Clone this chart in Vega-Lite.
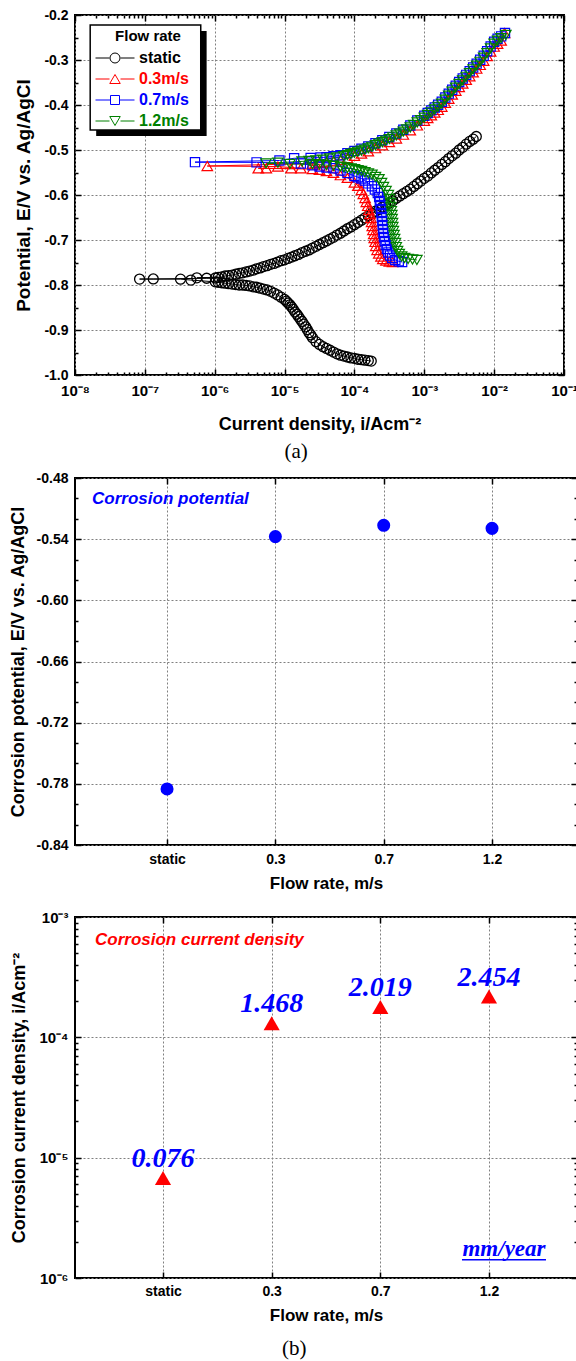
{
"$schema":"https://vega.github.io/schema/vega-lite/v6.json",
"padding":{"left":8,"top":7,"right":0,"bottom":0},
"spacing":7,
"config":{
 "view":{"stroke":"black","strokeWidth":2},
 "font":"Liberation Sans",
 "axis":{"domain":false,"labelFont":"Liberation Sans","labelFontWeight":"bold","labelFontSize":14,"labelColor":"black","titleFont":"Liberation Sans","titleFontWeight":"bold","titleColor":"black","tickColor":"black","tickWidth":1.5,"gridColor":"#808080","gridDash":[2,2],"gridWidth":1,"labelOverlap":false,"labelFlush":false,"labelBound":false}
},
"datasets":{
"pol":[
{"s":"static","i":8.4e-8,"E":-0.7868},{"s":"static","i":1.32e-7,"E":-0.7866},{"s":"static","i":3.24e-7,"E":-0.787},{"s":"static","i":4.56e-7,"E":-0.789},{"s":"static","i":5.55e-7,"E":-0.784},{"s":"static","i":7.67e-7,"E":-0.785},
{"s":"static","i":1.74e-4,"E":-0.969},{"s":"static","i":1.58e-4,"E":-0.968},{"s":"static","i":1.41e-4,"E":-0.967},{"s":"static","i":1.26e-4,"E":-0.966},{"s":"static","i":1.12e-4,"E":-0.965},{"s":"static","i":1.0e-4,"E":-0.963},{"s":"static","i":8.91e-5,"E":-0.962},{"s":"static","i":7.94e-5,"E":-0.960},{"s":"static","i":7.08e-5,"E":-0.958},{"s":"static","i":6.31e-5,"E":-0.956},{"s":"static","i":5.62e-5,"E":-0.953},{"s":"static","i":5.01e-5,"E":-0.949},{"s":"static","i":4.47e-5,"E":-0.945},{"s":"static","i":3.98e-5,"E":-0.941},{"s":"static","i":3.55e-5,"E":-0.937},{"s":"static","i":3.16e-5,"E":-0.932},{"s":"static","i":2.82e-5,"E":-0.926},{"s":"static","i":2.51e-5,"E":-0.917},{"s":"static","i":2.37e-5,"E":-0.911},{"s":"static","i":2.24e-5,"E":-0.906},{"s":"static","i":2.11e-5,"E":-0.899},{"s":"static","i":2.0e-5,"E":-0.893},{"s":"static","i":1.88e-5,"E":-0.887},{"s":"static","i":1.78e-5,"E":-0.881},{"s":"static","i":1.68e-5,"E":-0.876},{"s":"static","i":1.58e-5,"E":-0.870},{"s":"static","i":1.5e-5,"E":-0.865},{"s":"static","i":1.41e-5,"E":-0.860},{"s":"static","i":1.33e-5,"E":-0.854},{"s":"static","i":1.26e-5,"E":-0.849},{"s":"static","i":1.19e-5,"E":-0.844},{"s":"static","i":1.12e-5,"E":-0.840},{"s":"static","i":1.06e-5,"E":-0.836},{"s":"static","i":1.0e-5,"E":-0.832},{"s":"static","i":8.91e-6,"E":-0.827},{"s":"static","i":7.94e-6,"E":-0.822},{"s":"static","i":7.08e-6,"E":-0.818},{"s":"static","i":6.31e-6,"E":-0.814},{"s":"static","i":5.62e-6,"E":-0.811},{"s":"static","i":5.01e-6,"E":-0.809},{"s":"static","i":4.47e-6,"E":-0.807},{"s":"static","i":3.98e-6,"E":-0.805},{"s":"static","i":3.55e-6,"E":-0.804},{"s":"static","i":3.16e-6,"E":-0.802},{"s":"static","i":2.82e-6,"E":-0.801},{"s":"static","i":2.51e-6,"E":-0.800},{"s":"static","i":2.24e-6,"E":-0.800},{"s":"static","i":2.0e-6,"E":-0.799},{"s":"static","i":1.78e-6,"E":-0.798},{"s":"static","i":1.58e-6,"E":-0.797},{"s":"static","i":1.41e-6,"E":-0.796},{"s":"static","i":1.26e-6,"E":-0.795},{"s":"static","i":1.12e-6,"E":-0.794},{"s":"static","i":1.02e-6,"E":-0.793},
{"s":"static","i":1.02e-6,"E":-0.7844},{"s":"static","i":1.12e-6,"E":-0.783},{"s":"static","i":1.26e-6,"E":-0.782},{"s":"static","i":1.41e-6,"E":-0.780},{"s":"static","i":1.58e-6,"E":-0.779},{"s":"static","i":1.78e-6,"E":-0.778},{"s":"static","i":2.0e-6,"E":-0.776},{"s":"static","i":2.24e-6,"E":-0.774},{"s":"static","i":2.51e-6,"E":-0.773},{"s":"static","i":2.82e-6,"E":-0.771},{"s":"static","i":3.16e-6,"E":-0.769},{"s":"static","i":3.55e-6,"E":-0.767},{"s":"static","i":3.98e-6,"E":-0.764},{"s":"static","i":4.47e-6,"E":-0.762},{"s":"static","i":5.01e-6,"E":-0.759},{"s":"static","i":5.62e-6,"E":-0.757},{"s":"static","i":6.31e-6,"E":-0.754},{"s":"static","i":7.08e-6,"E":-0.752},{"s":"static","i":7.94e-6,"E":-0.749},{"s":"static","i":8.91e-6,"E":-0.746},{"s":"static","i":1.0e-5,"E":-0.744},{"s":"static","i":1.12e-5,"E":-0.741},{"s":"static","i":1.26e-5,"E":-0.738},{"s":"static","i":1.41e-5,"E":-0.735},{"s":"static","i":1.58e-5,"E":-0.732},{"s":"static","i":1.78e-5,"E":-0.728},{"s":"static","i":2.0e-5,"E":-0.725},{"s":"static","i":2.24e-5,"E":-0.722},{"s":"static","i":2.51e-5,"E":-0.718},{"s":"static","i":2.82e-5,"E":-0.714},{"s":"static","i":3.16e-5,"E":-0.710},{"s":"static","i":3.55e-5,"E":-0.706},{"s":"static","i":3.98e-5,"E":-0.702},{"s":"static","i":4.47e-5,"E":-0.698},{"s":"static","i":5.01e-5,"E":-0.694},{"s":"static","i":5.62e-5,"E":-0.689},{"s":"static","i":6.31e-5,"E":-0.685},{"s":"static","i":7.08e-5,"E":-0.680},{"s":"static","i":7.94e-5,"E":-0.675},{"s":"static","i":8.91e-5,"E":-0.671},{"s":"static","i":1.0e-4,"E":-0.666},{"s":"static","i":1.12e-4,"E":-0.661},{"s":"static","i":1.26e-4,"E":-0.656},{"s":"static","i":1.41e-4,"E":-0.651},{"s":"static","i":1.58e-4,"E":-0.646},{"s":"static","i":1.78e-4,"E":-0.641},{"s":"static","i":2.0e-4,"E":-0.636},{"s":"static","i":2.24e-4,"E":-0.632},{"s":"static","i":2.51e-4,"E":-0.627},{"s":"static","i":2.82e-4,"E":-0.622},{"s":"static","i":3.16e-4,"E":-0.618},{"s":"static","i":3.55e-4,"E":-0.613},{"s":"static","i":3.98e-4,"E":-0.607},{"s":"static","i":4.47e-4,"E":-0.602},{"s":"static","i":5.01e-4,"E":-0.597},{"s":"static","i":5.62e-4,"E":-0.592},{"s":"static","i":6.31e-4,"E":-0.587},{"s":"static","i":7.08e-4,"E":-0.581},{"s":"static","i":7.94e-4,"E":-0.575},{"s":"static","i":8.91e-4,"E":-0.569},{"s":"static","i":1.0e-3,"E":-0.563},{"s":"static","i":1.12e-3,"E":-0.558},{"s":"static","i":1.26e-3,"E":-0.551},{"s":"static","i":1.41e-3,"E":-0.545},{"s":"static","i":1.58e-3,"E":-0.539},{"s":"static","i":1.78e-3,"E":-0.532},{"s":"static","i":2.0e-3,"E":-0.526},{"s":"static","i":2.24e-3,"E":-0.519},{"s":"static","i":2.51e-3,"E":-0.513},{"s":"static","i":2.82e-3,"E":-0.507},{"s":"static","i":3.16e-3,"E":-0.500},{"s":"static","i":3.55e-3,"E":-0.494},{"s":"static","i":3.98e-3,"E":-0.487},{"s":"static","i":4.47e-3,"E":-0.481},{"s":"static","i":5.01e-3,"E":-0.476},{"s":"static","i":5.55e-3,"E":-0.470},
{"s":"0.3m/s","i":7.83e-7,"E":-0.5356},{"s":"0.3m/s","i":4.2e-6,"E":-0.5407},{"s":"0.3m/s","i":5.48e-6,"E":-0.5407},{"s":"0.3m/s","i":8.02e-6,"E":-0.5367},{"s":"0.3m/s","i":1.24e-5,"E":-0.5407},{"s":"0.3m/s","i":1.71e-5,"E":-0.5407},
{"s":"0.3m/s","i":2.51e-5,"E":-0.5424},{"s":"0.3m/s","i":3.16e-5,"E":-0.544},{"s":"0.3m/s","i":3.98e-5,"E":-0.5469},{"s":"0.3m/s","i":5.01e-5,"E":-0.5509},{"s":"0.3m/s","i":6.31e-5,"E":-0.556},{"s":"0.3m/s","i":7.94e-5,"E":-0.562},{"s":"0.3m/s","i":1.0e-4,"E":-0.5724},{"s":"0.3m/s","i":1.12e-4,"E":-0.5796},{"s":"0.3m/s","i":1.26e-4,"E":-0.5889},{"s":"0.3m/s","i":1.34e-4,"E":-0.5978},{"s":"0.3m/s","i":1.42e-4,"E":-0.6067},{"s":"0.3m/s","i":1.48e-4,"E":-0.6156},{"s":"0.3m/s","i":1.55e-4,"E":-0.6244},{"s":"0.3m/s","i":1.61e-4,"E":-0.6333},{"s":"0.3m/s","i":1.67e-4,"E":-0.6422},{"s":"0.3m/s","i":1.73e-4,"E":-0.6511},{"s":"0.3m/s","i":1.76e-4,"E":-0.660},{"s":"0.3m/s","i":1.8e-4,"E":-0.6689},{"s":"0.3m/s","i":1.84e-4,"E":-0.6778},{"s":"0.3m/s","i":1.89e-4,"E":-0.6867},{"s":"0.3m/s","i":1.92e-4,"E":-0.6956},{"s":"0.3m/s","i":1.98e-4,"E":-0.7044},{"s":"0.3m/s","i":2.02e-4,"E":-0.7133},{"s":"0.3m/s","i":2.11e-4,"E":-0.7222},{"s":"0.3m/s","i":2.23e-4,"E":-0.730},{"s":"0.3m/s","i":2.4e-4,"E":-0.7367},{"s":"0.3m/s","i":2.55e-4,"E":-0.7422},{"s":"0.3m/s","i":2.83e-4,"E":-0.7456},{"s":"0.3m/s","i":3.16e-4,"E":-0.7478},{"s":"0.3m/s","i":3.52e-4,"E":-0.7489},
{"s":"0.3m/s","i":2.51e-5,"E":-0.530},{"s":"0.3m/s","i":3.16e-5,"E":-0.5284},{"s":"0.3m/s","i":3.98e-5,"E":-0.5267},{"s":"0.3m/s","i":5.01e-5,"E":-0.5249},{"s":"0.3m/s","i":6.31e-5,"E":-0.5222},{"s":"0.3m/s","i":7.94e-5,"E":-0.518},{"s":"0.3m/s","i":1.0e-4,"E":-0.513},{"s":"0.3m/s","i":1.26e-4,"E":-0.508},{"s":"0.3m/s","i":1.58e-4,"E":-0.503},{"s":"0.3m/s","i":2.0e-4,"E":-0.496},{"s":"0.3m/s","i":2.51e-4,"E":-0.4895},{"s":"0.3m/s","i":3.16e-4,"E":-0.4825},{"s":"0.3m/s","i":3.98e-4,"E":-0.4745},{"s":"0.3m/s","i":5.01e-4,"E":-0.466},{"s":"0.3m/s","i":6.31e-4,"E":-0.4565},{"s":"0.3m/s","i":7.94e-4,"E":-0.4455},{"s":"0.3m/s","i":1.0e-3,"E":-0.435},{"s":"0.3m/s","i":1.12e-3,"E":-0.4292},{"s":"0.3m/s","i":1.26e-3,"E":-0.423},{"s":"0.3m/s","i":1.41e-3,"E":-0.417},{"s":"0.3m/s","i":1.58e-3,"E":-0.411},{"s":"0.3m/s","i":1.78e-3,"E":-0.4039},{"s":"0.3m/s","i":2.0e-3,"E":-0.395},{"s":"0.3m/s","i":2.24e-3,"E":-0.3861},{"s":"0.3m/s","i":2.51e-3,"E":-0.377},{"s":"0.3m/s","i":2.82e-3,"E":-0.3683},{"s":"0.3m/s","i":3.16e-3,"E":-0.360},{"s":"0.3m/s","i":3.55e-3,"E":-0.3524},{"s":"0.3m/s","i":3.98e-3,"E":-0.344},{"s":"0.3m/s","i":4.47e-3,"E":-0.3361},{"s":"0.3m/s","i":5.01e-3,"E":-0.3275},{"s":"0.3m/s","i":5.62e-3,"E":-0.3194},{"s":"0.3m/s","i":6.31e-3,"E":-0.311},{"s":"0.3m/s","i":7.08e-3,"E":-0.3017},{"s":"0.3m/s","i":7.94e-3,"E":-0.2915},{"s":"0.3m/s","i":8.91e-3,"E":-0.2812},{"s":"0.3m/s","i":1.0e-2,"E":-0.2705},{"s":"0.3m/s","i":1.12e-2,"E":-0.2641},{"s":"0.3m/s","i":1.26e-2,"E":-0.257},{"s":"0.3m/s","i":1.41e-2,"E":-0.240},
{"s":"0.7m/s","i":5.22e-7,"E":-0.527},{"s":"0.7m/s","i":3.97e-6,"E":-0.5275},{"s":"0.7m/s","i":8.45e-6,"E":-0.5233},{"s":"0.7m/s","i":1.37e-5,"E":-0.5184},{"s":"0.7m/s","i":2.36e-5,"E":-0.5178},{"s":"0.7m/s","i":3.27e-5,"E":-0.5167},
{"s":"0.7m/s","i":3.98e-5,"E":-0.516},{"s":"0.7m/s","i":5.01e-5,"E":-0.514},{"s":"0.7m/s","i":6.31e-5,"E":-0.5115},{"s":"0.7m/s","i":7.94e-5,"E":-0.507},{"s":"0.7m/s","i":1.0e-4,"E":-0.502},{"s":"0.7m/s","i":1.26e-4,"E":-0.497},{"s":"0.7m/s","i":1.58e-4,"E":-0.492},{"s":"0.7m/s","i":2.0e-4,"E":-0.485},{"s":"0.7m/s","i":2.51e-4,"E":-0.4785},{"s":"0.7m/s","i":3.16e-4,"E":-0.471},{"s":"0.7m/s","i":3.98e-4,"E":-0.4635},{"s":"0.7m/s","i":5.01e-4,"E":-0.455},{"s":"0.7m/s","i":6.31e-4,"E":-0.4455},{"s":"0.7m/s","i":7.94e-4,"E":-0.4345},{"s":"0.7m/s","i":1.0e-3,"E":-0.424},{"s":"0.7m/s","i":1.12e-3,"E":-0.4179},{"s":"0.7m/s","i":1.26e-3,"E":-0.412},{"s":"0.7m/s","i":1.41e-3,"E":-0.4057},{"s":"0.7m/s","i":1.58e-3,"E":-0.3995},{"s":"0.7m/s","i":1.78e-3,"E":-0.3926},{"s":"0.7m/s","i":2.0e-3,"E":-0.3835},{"s":"0.7m/s","i":2.24e-3,"E":-0.3748},{"s":"0.7m/s","i":2.51e-3,"E":-0.366},{"s":"0.7m/s","i":2.82e-3,"E":-0.357},{"s":"0.7m/s","i":3.16e-3,"E":-0.349},{"s":"0.7m/s","i":3.55e-3,"E":-0.3411},{"s":"0.7m/s","i":3.98e-3,"E":-0.333},{"s":"0.7m/s","i":4.47e-3,"E":-0.3248},{"s":"0.7m/s","i":5.01e-3,"E":-0.3165},{"s":"0.7m/s","i":5.62e-3,"E":-0.3081},{"s":"0.7m/s","i":6.31e-3,"E":-0.2995},{"s":"0.7m/s","i":7.08e-3,"E":-0.2904},{"s":"0.7m/s","i":7.94e-3,"E":-0.2805},{"s":"0.7m/s","i":8.91e-3,"E":-0.2699},{"s":"0.7m/s","i":1.0e-2,"E":-0.2595},{"s":"0.7m/s","i":1.12e-2,"E":-0.2528},{"s":"0.7m/s","i":1.26e-2,"E":-0.2475},{"s":"0.7m/s","i":1.43e-2,"E":-0.240},
{"s":"0.7m/s","i":1.71e-5,"E":-0.530},{"s":"0.7m/s","i":2.51e-5,"E":-0.534},{"s":"0.7m/s","i":3.16e-5,"E":-0.5367},{"s":"0.7m/s","i":3.98e-5,"E":-0.5389},{"s":"0.7m/s","i":5.01e-5,"E":-0.5407},{"s":"0.7m/s","i":6.31e-5,"E":-0.5458},{"s":"0.7m/s","i":7.94e-5,"E":-0.5513},{"s":"0.7m/s","i":1.0e-4,"E":-0.5576},{"s":"0.7m/s","i":1.12e-4,"E":-0.5604},{"s":"0.7m/s","i":1.26e-4,"E":-0.5633},{"s":"0.7m/s","i":1.41e-4,"E":-0.5678},{"s":"0.7m/s","i":1.58e-4,"E":-0.5742},{"s":"0.7m/s","i":1.78e-4,"E":-0.5804},{"s":"0.7m/s","i":1.96e-4,"E":-0.5878},{"s":"0.7m/s","i":2.16e-4,"E":-0.5956},{"s":"0.7m/s","i":2.26e-4,"E":-0.6044},{"s":"0.7m/s","i":2.31e-4,"E":-0.6133},{"s":"0.7m/s","i":2.36e-4,"E":-0.6222},{"s":"0.7m/s","i":2.41e-4,"E":-0.6311},{"s":"0.7m/s","i":2.44e-4,"E":-0.640},{"s":"0.7m/s","i":2.47e-4,"E":-0.6489},{"s":"0.7m/s","i":2.51e-4,"E":-0.6578},{"s":"0.7m/s","i":2.54e-4,"E":-0.6667},{"s":"0.7m/s","i":2.57e-4,"E":-0.6756},{"s":"0.7m/s","i":2.6e-4,"E":-0.6844},{"s":"0.7m/s","i":2.65e-4,"E":-0.6933},{"s":"0.7m/s","i":2.72e-4,"E":-0.7022},{"s":"0.7m/s","i":2.81e-4,"E":-0.7111},{"s":"0.7m/s","i":2.92e-4,"E":-0.720},{"s":"0.7m/s","i":3.06e-4,"E":-0.7278},{"s":"0.7m/s","i":3.24e-4,"E":-0.7344},{"s":"0.7m/s","i":3.48e-4,"E":-0.740},{"s":"0.7m/s","i":3.85e-4,"E":-0.7444},{"s":"0.7m/s","i":4.31e-4,"E":-0.7473},{"s":"0.7m/s","i":4.82e-4,"E":-0.7489},
{"s":"1.2m/s","i":5.43e-6,"E":-0.5296},{"s":"1.2m/s","i":8.02e-6,"E":-0.5282},{"s":"1.2m/s","i":1.19e-5,"E":-0.5311},
{"s":"1.2m/s","i":1.78e-5,"E":-0.5253},{"s":"1.2m/s","i":2.24e-5,"E":-0.5242},{"s":"1.2m/s","i":2.82e-5,"E":-0.5229},{"s":"1.2m/s","i":3.55e-5,"E":-0.5213},{"s":"1.2m/s","i":4.47e-5,"E":-0.5189},{"s":"1.2m/s","i":5.62e-5,"E":-0.5167},{"s":"1.2m/s","i":7.08e-5,"E":-0.5138},{"s":"1.2m/s","i":7.94e-5,"E":-0.5113},{"s":"1.2m/s","i":8.91e-5,"E":-0.5089},{"s":"1.2m/s","i":1.0e-4,"E":-0.5064},{"s":"1.2m/s","i":1.12e-4,"E":-0.504},{"s":"1.2m/s","i":1.26e-4,"E":-0.5016},{"s":"1.2m/s","i":1.41e-4,"E":-0.4991},{"s":"1.2m/s","i":1.58e-4,"E":-0.4962},{"s":"1.2m/s","i":1.78e-4,"E":-0.4929},{"s":"1.2m/s","i":2.0e-4,"E":-0.4893},{"s":"1.2m/s","i":2.24e-4,"E":-0.486},{"s":"1.2m/s","i":2.51e-4,"E":-0.4827},{"s":"1.2m/s","i":2.82e-4,"E":-0.4793},{"s":"1.2m/s","i":3.16e-4,"E":-0.4756},{"s":"1.2m/s","i":3.55e-4,"E":-0.4718},{"s":"1.2m/s","i":3.98e-4,"E":-0.4678},{"s":"1.2m/s","i":4.47e-4,"E":-0.4636},{"s":"1.2m/s","i":5.01e-4,"E":-0.4591},{"s":"1.2m/s","i":5.62e-4,"E":-0.4544},{"s":"1.2m/s","i":6.31e-4,"E":-0.4498},{"s":"1.2m/s","i":7.08e-4,"E":-0.4444},{"s":"1.2m/s","i":7.94e-4,"E":-0.4389},{"s":"1.2m/s","i":8.91e-4,"E":-0.4336},{"s":"1.2m/s","i":1.0e-3,"E":-0.4282},{"s":"1.2m/s","i":1.12e-3,"E":-0.4222},{"s":"1.2m/s","i":1.26e-3,"E":-0.4162},{"s":"1.2m/s","i":1.41e-3,"E":-0.41},{"s":"1.2m/s","i":1.58e-3,"E":-0.404},{"s":"1.2m/s","i":1.78e-3,"E":-0.3969},{"s":"1.2m/s","i":2.0e-3,"E":-0.388},{"s":"1.2m/s","i":2.24e-3,"E":-0.3791},{"s":"1.2m/s","i":2.51e-3,"E":-0.3702},{"s":"1.2m/s","i":2.82e-3,"E":-0.3613},{"s":"1.2m/s","i":3.16e-3,"E":-0.3533},{"s":"1.2m/s","i":3.55e-3,"E":-0.3454},{"s":"1.2m/s","i":3.98e-3,"E":-0.3373},{"s":"1.2m/s","i":4.47e-3,"E":-0.3291},{"s":"1.2m/s","i":5.01e-3,"E":-0.3207},{"s":"1.2m/s","i":5.62e-3,"E":-0.3124},{"s":"1.2m/s","i":6.31e-3,"E":-0.304},{"s":"1.2m/s","i":7.08e-3,"E":-0.2947},{"s":"1.2m/s","i":7.94e-3,"E":-0.2847},{"s":"1.2m/s","i":8.91e-3,"E":-0.2742},{"s":"1.2m/s","i":1.0e-2,"E":-0.2637},{"s":"1.2m/s","i":1.12e-2,"E":-0.2571},{"s":"1.2m/s","i":1.26e-2,"E":-0.2513},{"s":"1.2m/s","i":1.47e-2,"E":-0.2444},
{"s":"1.2m/s","i":2.51e-5,"E":-0.5313},{"s":"1.2m/s","i":3.16e-5,"E":-0.5324},{"s":"1.2m/s","i":3.98e-5,"E":-0.5336},{"s":"1.2m/s","i":5.01e-5,"E":-0.5353},{"s":"1.2m/s","i":6.31e-5,"E":-0.5369},{"s":"1.2m/s","i":7.08e-5,"E":-0.5384},{"s":"1.2m/s","i":7.94e-5,"E":-0.5398},{"s":"1.2m/s","i":8.91e-5,"E":-0.5411},{"s":"1.2m/s","i":1.0e-4,"E":-0.5427},{"s":"1.2m/s","i":1.12e-4,"E":-0.5447},{"s":"1.2m/s","i":1.26e-4,"E":-0.5464},{"s":"1.2m/s","i":1.41e-4,"E":-0.5493},{"s":"1.2m/s","i":1.58e-4,"E":-0.5522},{"s":"1.2m/s","i":1.78e-4,"E":-0.5547},{"s":"1.2m/s","i":2.0e-4,"E":-0.56},{"s":"1.2m/s","i":2.24e-4,"E":-0.5649},{"s":"1.2m/s","i":2.44e-4,"E":-0.5733},{"s":"1.2m/s","i":2.6e-4,"E":-0.5822},{"s":"1.2m/s","i":2.83e-4,"E":-0.5911},{"s":"1.2m/s","i":3.06e-4,"E":-0.600},{"s":"1.2m/s","i":3.16e-4,"E":-0.6089},{"s":"1.2m/s","i":3.27e-4,"E":-0.6178},{"s":"1.2m/s","i":3.32e-4,"E":-0.6267},{"s":"1.2m/s","i":3.37e-4,"E":-0.6356},{"s":"1.2m/s","i":3.43e-4,"E":-0.6444},{"s":"1.2m/s","i":3.46e-4,"E":-0.6533},{"s":"1.2m/s","i":3.51e-4,"E":-0.6622},{"s":"1.2m/s","i":3.54e-4,"E":-0.6711},{"s":"1.2m/s","i":3.61e-4,"E":-0.680},{"s":"1.2m/s","i":3.68e-4,"E":-0.6889},{"s":"1.2m/s","i":3.76e-4,"E":-0.6978},{"s":"1.2m/s","i":3.86e-4,"E":-0.7067},{"s":"1.2m/s","i":3.97e-4,"E":-0.7156},{"s":"1.2m/s","i":4.14e-4,"E":-0.7244},{"s":"1.2m/s","i":4.38e-4,"E":-0.7311},{"s":"1.2m/s","i":4.74e-4,"E":-0.7367},{"s":"1.2m/s","i":5.22e-4,"E":-0.740},{"s":"1.2m/s","i":5.86e-4,"E":-0.7422},{"s":"1.2m/s","i":6.78e-4,"E":-0.7433},{"s":"1.2m/s","i":7.83e-4,"E":-0.7444}
],
"sum":[
{"f":"static","Ecorr":-0.785,"icorr":6.78e-6,"rate":0.076},
{"f":"0.3","Ecorr":-0.5375,"icorr":1.31e-4,"rate":1.468},
{"f":"0.7","Ecorr":-0.5264,"icorr":1.79e-4,"rate":2.019},
{"f":"1.2","Ecorr":-0.5294,"icorr":2.18e-4,"rate":2.454}
]
},
"vconcat":[
{
 "width":489,"height":360,
 "title":{"text":"(a)","orient":"bottom","anchor":"middle","frame":"bounds","font":"Liberation Serif","fontSize":21,"fontWeight":"normal","color":"black","offset":8},
 "resolve":{"axis":{"x":"independent","y":"independent"}},
 "layer":[
  {"data":{"values":[{}]},
   "mark":{"type":"rect","fill":"black"},
   "encoding":{
    "x":{"datum":2.01e-8,"type":"quantitative","scale":{"type":"log","domain":[1e-8,0.1],"nice":false},
     "axis":{"orient":"bottom","values":[1e-8,2e-8,3e-8,4e-8,5e-8,6e-8,7e-8,8e-8,9e-8,1e-7,2e-7,3e-7,4e-7,5e-7,6e-7,7e-7,8e-7,9e-7,1e-6,2e-6,3e-6,4e-6,5e-6,6e-6,7e-6,8e-6,9e-6,1e-5,2e-5,3e-5,4e-5,5e-5,6e-5,7e-5,8e-5,9e-5,1e-4,2e-4,3e-4,4e-4,5e-4,6e-4,7e-4,8e-4,9e-4,1e-3,2e-3,3e-3,4e-3,5e-3,6e-3,7e-3,8e-3,9e-3,1e-2,2e-2,3e-2,4e-2,5e-2,6e-2,7e-2,8e-2,9e-2,1e-1],
      "labelExpr":"abs(log(datum.value)/LN10 - round(log(datum.value)/LN10)) < 0.001 ? '10' + ['⁻⁸','⁻⁷','⁻⁶','⁻⁵','⁻⁴','⁻³','⁻²','⁻¹'][round(log(datum.value)/LN10)+8] : ''",
      "labelPadding":14,"labelFontSize":15,"grid":true,
      "gridOpacity":{"condition":{"test":"abs(log(datum.value)/LN10 - round(log(datum.value)/LN10)) < 0.001","value":1},"value":0},
      "tickSize":{"condition":{"test":"abs(log(datum.value)/LN10 - round(log(datum.value)/LN10)) < 0.001","value":-6},"value":-3},
      "title":"Current density, i/Acm⁻²","titleFontSize":18,"titlePadding":14}},
    "x2":{"datum":7.66e-7},
    "y":{"datum":-0.2356,"type":"quantitative","scale":{"domain":[-1.0,-0.2],"nice":false,"zero":false},
     "axis":{"orient":"left","values":[-1,-0.95,-0.9,-0.85,-0.8,-0.75,-0.7,-0.65,-0.6,-0.55,-0.5,-0.45,-0.4,-0.35,-0.3,-0.25,-0.2],
      "labelExpr":"abs(datum.value*10 - round(datum.value*10)) < 0.001 ? replace(format(datum.value,'.1f'),'−','-') : ''",
      "labelPadding":13,"grid":true,
      "gridOpacity":{"condition":{"test":"abs(datum.value*10 - round(datum.value*10)) < 0.001","value":1},"value":0},
      "tickSize":{"condition":{"test":"abs(datum.value*10 - round(datum.value*10)) < 0.001","value":-6},"value":-3},
      "title":"Potential, E/V vs. Ag/AgCl","titleFontSize":19,"titlePadding":10}},
    "y2":{"datum":-0.4689}
   }},
  {"data":{"values":[{}]},
   "mark":{"type":"rect","fill":"white","stroke":"black","strokeWidth":1.5},
   "encoding":{
    "x":{"datum":1.65e-8,"type":"quantitative",
     "axis":{"orient":"top","values":[1e-8,2e-8,3e-8,4e-8,5e-8,6e-8,7e-8,8e-8,9e-8,1e-7,2e-7,3e-7,4e-7,5e-7,6e-7,7e-7,8e-7,9e-7,1e-6,2e-6,3e-6,4e-6,5e-6,6e-6,7e-6,8e-6,9e-6,1e-5,2e-5,3e-5,4e-5,5e-5,6e-5,7e-5,8e-5,9e-5,1e-4,2e-4,3e-4,4e-4,5e-4,6e-4,7e-4,8e-4,9e-4,1e-3,2e-3,3e-3,4e-3,5e-3,6e-3,7e-3,8e-3,9e-3,1e-2,2e-2,3e-2,4e-2,5e-2,6e-2,7e-2,8e-2,9e-2,1e-1],
      "labels":false,"grid":false,"title":null,
      "tickSize":{"condition":{"test":"abs(log(datum.value)/LN10 - round(log(datum.value)/LN10)) < 0.001","value":-6},"value":-3}}},
    "x2":{"datum":6.31e-7},
    "y":{"datum":-0.2222,"type":"quantitative",
     "axis":{"orient":"right","values":[-1,-0.95,-0.9,-0.85,-0.8,-0.75,-0.7,-0.65,-0.6,-0.55,-0.5,-0.45,-0.4,-0.35,-0.3,-0.25,-0.2],
      "labels":false,"grid":false,"title":null,
      "tickSize":{"condition":{"test":"abs(datum.value*10 - round(datum.value*10)) < 0.001","value":-6},"value":-3}}},
    "y2":{"datum":-0.4556}
   }},
  {"data":{"name":"pol"},
   "mark":{"type":"line","strokeWidth":1},
   "encoding":{
    "x":{"field":"i","type":"quantitative","axis":null},
    "y":{"field":"E","type":"quantitative","axis":null},
    "color":{"field":"s","type":"nominal","scale":{"domain":["static","0.3m/s","0.7m/s","1.2m/s"],"range":["#000000","#ff0000","#0000ff","#008000"]}},
    "order":{"field":"E","type":"quantitative"}
   }},
  {"data":{"name":"pol"},"transform":[{"filter":"datum.s === 'static'"}],
   "mark":{"type":"point","shape":"circle","filled":false,"color":"#000000","strokeWidth":1.3,"size":100,"opacity":1},
   "encoding":{"x":{"field":"i","type":"quantitative","axis":null},"y":{"field":"E","type":"quantitative","axis":null}}},
  {"data":{"name":"pol"},"transform":[{"filter":"datum.s === '0.3m/s'"}],
   "mark":{"type":"point","shape":"triangle-up","filled":false,"color":"#ff0000","strokeWidth":1.2,"size":110,"opacity":1},
   "encoding":{"x":{"field":"i","type":"quantitative","axis":null},"y":{"field":"E","type":"quantitative","axis":null}}},
  {"data":{"name":"pol"},"transform":[{"filter":"datum.s === '0.7m/s'"}],
   "mark":{"type":"point","shape":"square","filled":false,"color":"#0000ff","strokeWidth":1.2,"size":85,"opacity":1},
   "encoding":{"x":{"field":"i","type":"quantitative","axis":null},"y":{"field":"E","type":"quantitative","axis":null}}},
  {"data":{"name":"pol"},"transform":[{"filter":"datum.s === '1.2m/s'"}],
   "mark":{"type":"point","shape":"triangle-down","filled":false,"color":"#008000","strokeWidth":1.2,"size":110,"opacity":1},
   "encoding":{"x":{"field":"i","type":"quantitative","axis":null},"y":{"field":"E","type":"quantitative","axis":null}}},
  {"data":{"name":"pol"},"transform":[{"filter":"false"}],
   "mark":{"type":"point","filled":false,"strokeWidth":1,"opacity":1},
   "encoding":{
    "x":{"field":"i","type":"quantitative","axis":null},
    "y":{"field":"E","type":"quantitative","axis":null},
    "color":{"field":"s","type":"nominal","scale":{"domain":["static","0.3m/s","0.7m/s","1.2m/s"],"range":["#000000","#ff0000","#0000ff","#008000"]},
     "legend":{"orient":"none","legendX":32,"legendY":14,"title":"Flow rate","titleAnchor":"middle","titleFontSize":15,"titleFontWeight":"bold","titleFont":"Liberation Sans","titleColor":"black","titlePadding":6,"labelFont":"Liberation Sans","labelFontSize":16,"labelFontWeight":"bold","labelOffset":16,"symbolSize":100,"symbolStrokeWidth":1,"symbolOffset":0,"rowPadding":5,"padding":0,"zindex":5,
      "labelColor":{"expr":"datum.value === 'static' ? '#000000' : datum.value === '0.3m/s' ? '#ff0000' : datum.value === '0.7m/s' ? '#0000ff' : '#008000'"},
      "encode":{"labels":{"update":{"fill":{"signal":"datum.value === 'static' ? '#000000' : datum.value === '0.3m/s' ? '#ff0000' : datum.value === '0.7m/s' ? '#0000ff' : '#008000'"}}},
       "symbols":{"update":{"fill":{"value":"white"},"strokeWidth":{"value":1}}}}}},
    "shape":{"field":"s","type":"nominal","scale":{"domain":["static","0.3m/s","0.7m/s","1.2m/s"],"range":["M-3.9,0H-1.1M1.1,0H3.9M-1,0A1,1,0,1,0,1,0A1,1,0,1,0,-1,0Z","M-3.9,0H-1.1M1.1,0H3.9M0,-0.9L-1.05,0.9L1.05,0.9Z","M-3.9,0H-1M1,0H3.9M-0.9,-0.9H0.9V0.9H-0.9Z","M-3.9,0H-1.1M1.1,0H3.9M0,0.9L-1.05,-0.9L1.05,-0.9Z"]}}
   }}
 ]
},
{
 "spacing":17,
 "vconcat":[
 {
 "width":502,"height":367,
 "resolve":{"axis":{"x":"independent","y":"independent"}},
 "layer":[
  {"data":{"name":"sum"},
   "mark":{"type":"circle","color":"#0000ff","size":170,"opacity":1},
   "encoding":{
    "x":{"field":"f","type":"ordinal","sort":null,"scale":{"type":"point","domain":["static","0.3","0.7","1.2"],"padding":0.817,"align":0.52},
     "axis":{"orient":"bottom","labelAngle":0,"labelPadding":13,"tickSize":-6,"grid":true,"title":"Flow rate, m/s","titleFontSize":17,"titlePadding":9}},
    "y":{"field":"Ecorr","type":"quantitative","scale":{"domain":[-0.84,-0.48],"nice":false,"zero":false},
     "axis":{"orient":"left","values":[-0.84,-0.82,-0.8,-0.78,-0.76,-0.74,-0.72,-0.7,-0.68,-0.66,-0.64,-0.62,-0.6,-0.58,-0.56,-0.54,-0.52,-0.5,-0.48],
      "labelExpr":"abs((datum.value + 0.84)/0.06 - round((datum.value + 0.84)/0.06)) < 0.01 ? replace(format(datum.value,'.2f'),'−','-') : ''",
      "labelPadding":13,"grid":true,
      "gridOpacity":{"condition":{"test":"abs((datum.value + 0.84)/0.06 - round((datum.value + 0.84)/0.06)) < 0.01","value":1},"value":0},
      "tickSize":{"condition":{"test":"abs((datum.value + 0.84)/0.06 - round((datum.value + 0.84)/0.06)) < 0.01","value":-6},"value":-3},
      "title":"Corrosion potential, E/V vs. Ag/AgCl","titleFontSize":18,"titlePadding":9}}
   }},
  {"data":{"values":[{}]},
   "mark":{"type":"text","text":"Corrosion potential","font":"Liberation Sans","fontSize":17,"fontWeight":"bold","fontStyle":"italic","color":"#0000ff","align":"left","baseline":"middle","dx":-75},
   "encoding":{
    "x":{"datum":"static","type":"ordinal","axis":{"orient":"top","labels":false,"grid":false,"tickSize":-6,"title":null}},
    "y":{"datum":-0.501,"type":"quantitative",
     "axis":{"orient":"right","values":[-0.84,-0.82,-0.8,-0.78,-0.76,-0.74,-0.72,-0.7,-0.68,-0.66,-0.64,-0.62,-0.6,-0.58,-0.56,-0.54,-0.52,-0.5,-0.48],"labels":false,"grid":false,"title":null,
      "tickSize":{"condition":{"test":"abs((datum.value + 0.84)/0.06 - round((datum.value + 0.84)/0.06)) < 0.01","value":-6},"value":-3}}}
   }}
 ]
 },
 {
 "width":502,"height":361,
 "title":{"text":"(b)","orient":"bottom","anchor":"middle","frame":"bounds","font":"Liberation Serif","fontSize":21,"fontWeight":"normal","color":"black","offset":15},
 "resolve":{"axis":{"x":"independent","y":"independent"}},
 "layer":[
  {"data":{"name":"sum"},
   "mark":{"type":"point","shape":"triangle-up","filled":true,"color":"#ff0000","size":260,"opacity":1},
   "encoding":{
    "x":{"field":"f","type":"ordinal","sort":null,"scale":{"type":"point","domain":["static","0.3","0.7","1.2"],"padding":0.81,"align":0.5},
     "axis":{"orient":"bottom","labelAngle":0,"labelPadding":12,"tickSize":-6,"grid":true,"title":"Flow rate, m/s","titleFontSize":17,"titlePadding":9}},
    "y":{"field":"icorr","type":"quantitative","scale":{"type":"log","domain":[1e-6,1e-3],"nice":false},
     "axis":{"orient":"left","values":[1e-6,2e-6,3e-6,4e-6,5e-6,6e-6,7e-6,8e-6,9e-6,1e-5,2e-5,3e-5,4e-5,5e-5,6e-5,7e-5,8e-5,9e-5,1e-4,2e-4,3e-4,4e-4,5e-4,6e-4,7e-4,8e-4,9e-4,1e-3],
      "labelExpr":"abs(log(datum.value)/LN10 - round(log(datum.value)/LN10)) < 0.001 ? '10' + ['⁻⁶','⁻⁵','⁻⁴','⁻³'][round(log(datum.value)/LN10)+6] : ''",
      "labelPadding":13,"labelFontSize":15,"grid":true,
      "gridOpacity":{"condition":{"test":"abs(log(datum.value)/LN10 - round(log(datum.value)/LN10)) < 0.001","value":1},"value":0},
      "tickSize":{"condition":{"test":"abs(log(datum.value)/LN10 - round(log(datum.value)/LN10)) < 0.001","value":-6},"value":-3},
      "title":"Corrosion current density, i/Acm⁻²","titleFontSize":18,"titlePadding":10}}
   }},
  {"data":{"name":"sum"},
   "mark":{"type":"text","font":"Liberation Serif","fontSize":28,"fontWeight":"bold","fontStyle":"italic","color":"#0000ff","dy":-19,"baseline":"middle"},
   "encoding":{
    "x":{"field":"f","type":"ordinal","sort":null,"axis":{"orient":"top","labels":false,"grid":false,"tickSize":-6,"title":null}},
    "y":{"field":"icorr","type":"quantitative",
     "axis":{"orient":"right","values":[1e-6,2e-6,3e-6,4e-6,5e-6,6e-6,7e-6,8e-6,9e-6,1e-5,2e-5,3e-5,4e-5,5e-5,6e-5,7e-5,8e-5,9e-5,1e-4,2e-4,3e-4,4e-4,5e-4,6e-4,7e-4,8e-4,9e-4,1e-3],"labels":false,"grid":false,"title":null,
      "tickSize":{"condition":{"test":"abs(log(datum.value)/LN10 - round(log(datum.value)/LN10)) < 0.001","value":-6},"value":-3}}},
    "text":{"field":"rate","type":"quantitative","format":".3f"}
   }},
  {"data":{"values":[{}]},
   "mark":{"type":"text","text":"Corrosion current density","font":"Liberation Sans","fontSize":17,"fontWeight":"bold","fontStyle":"italic","color":"#ff0000","align":"left","baseline":"middle","dx":-68},
   "encoding":{
    "x":{"datum":"static","type":"ordinal","axis":null},
    "y":{"datum":6.4e-4,"type":"quantitative","axis":null}
   }},
  {"data":{"values":[{}]},
   "mark":{"type":"text","text":"mm/year","font":"Liberation Serif","fontSize":23,"fontWeight":"bold","fontStyle":"italic","color":"#0000ff","align":"center","baseline":"alphabetic","dx":15},
   "encoding":{
    "x":{"datum":"1.2","type":"ordinal","axis":null},
    "y":{"datum":1.51e-6,"type":"quantitative","axis":null}
   }},
  {"data":{"values":[{}]},
   "mark":{"type":"rule","color":"#0000ff","strokeWidth":1.5,"xOffset":-27,"x2Offset":57},
   "encoding":{
    "x":{"datum":"1.2","type":"ordinal","axis":null},
    "x2":{"datum":"1.2"},
    "y":{"datum":1.42e-6,"type":"quantitative","axis":null}
   }}
 ]
 }
 ]
}
]
}
